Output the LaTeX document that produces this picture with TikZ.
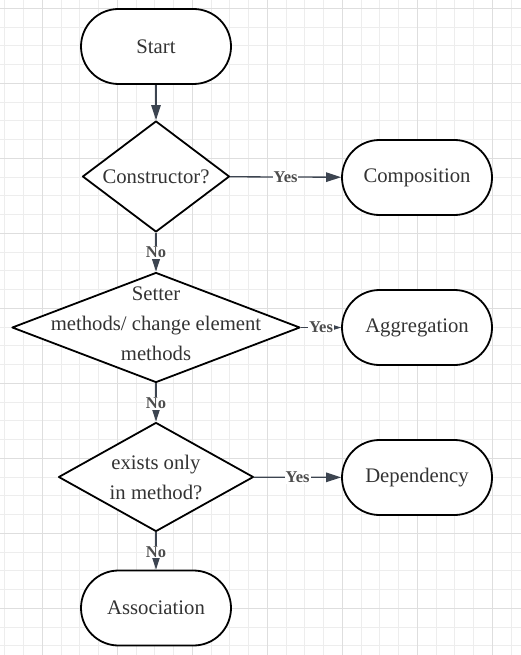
\documentclass[tikz,border=0pt]{standalone}
\usepackage{fontspec}
\setmainfont{Liberation Serif}
\usetikzlibrary{shapes.geometric,arrows.meta}
\definecolor{gridmin}{HTML}{EDEDED}
\definecolor{gridmaj}{HTML}{DEDEDE}
\definecolor{txtc}{HTML}{333333}
\definecolor{lblc}{HTML}{4D4D4D}
\definecolor{edgec}{HTML}{3C4450}
\tikzset{
  term/.style={draw=black, line width=1.8pt, fill=white, rounded corners=37.5pt,
    minimum width=150pt, minimum height=75pt, inner sep=0pt, text=txtc,
    font=\fontsize{20.7}{30}\selectfont},
  dia/.style={draw=black, line width=1.8pt, fill=white, diamond, inner sep=0pt,
    line join=round},
  diatext/.style={text=txtc, align=center, inner sep=0pt,
    font=\fontsize{20.7}{30}\selectfont},
  flow/.style={draw=edgec, line width=1.3pt, -{Triangle[length=15pt,width=9.5pt]}},
  lbl/.style={fill=white, text=lblc, inner sep=1pt,
    font=\fontsize{16.5}{17}\selectfont\bfseries}
}
\begin{document}
\begin{tikzpicture}[x=1pt,y=-1pt]
\useasboundingbox (0,0) rectangle (521,655);
\fill[white] (0,0) rectangle (521,655);
% grid
\foreach \i in {0,...,27} {
  \draw[gridmin, line width=1pt] ({4.8+18.75*\i},0) -- ({4.8+18.75*\i},655);
}
\foreach \i in {0,...,34} {
  \draw[gridmin, line width=1pt] (0,{8.3+18.75*\i}) -- (521,{8.3+18.75*\i});
}
\foreach \i in {0,...,6} {
  \draw[gridmaj, line width=1pt] ({42.3+75*\i},0) -- ({42.3+75*\i},655);
}
\foreach \i in {0,...,8} {
  \draw[gridmaj, line width=1pt] (0,{8.3+75*\i}) -- (521,{8.3+75*\i});
}
% nodes
\node[term] (start) at (156,46.5) {Start};
\node[dia, minimum width=147pt, minimum height=111pt,
  label={[diatext]center:Constructor?}] (d1) at (156,176.5) {};
\node[term] (comp) at (417,177.5) {Composition};
\node[dia, minimum width=288pt, minimum height=110pt,
  label={[diatext, yshift=4pt]center:Setter\\methods/ change element\\methods}] (d2) at (156,327.5) {};
\node[term] (aggr) at (417,327.5) {Aggregation};
\node[dia, minimum width=195pt, minimum height=109pt,
  label={[diatext]center:exists only\\in method?}] (d3) at (156,477) {};
\node[term] (dep) at (417,477.5) {Dependency};
\node[term] (assoc) at (156,608) {Association};
% edges
\draw[flow] (start) -- (d1);
\draw[flow] (d1) -- (comp) node[lbl, midway] {Yes};
\draw[flow] (d1) -- (d2) node[lbl, midway] {No};
\draw[flow] (d2.east) -- (aggr.west) node[lbl, midway] {Yes};
\draw[flow] (d2) -- (d3) node[lbl, midway, yshift=-1pt] {No};
\draw[flow] (d3) -- (dep) node[lbl, midway] {Yes};
\draw[flow] (d3) -- (assoc) node[lbl, midway, yshift=-1pt] {No};
\end{tikzpicture}
\end{document}
